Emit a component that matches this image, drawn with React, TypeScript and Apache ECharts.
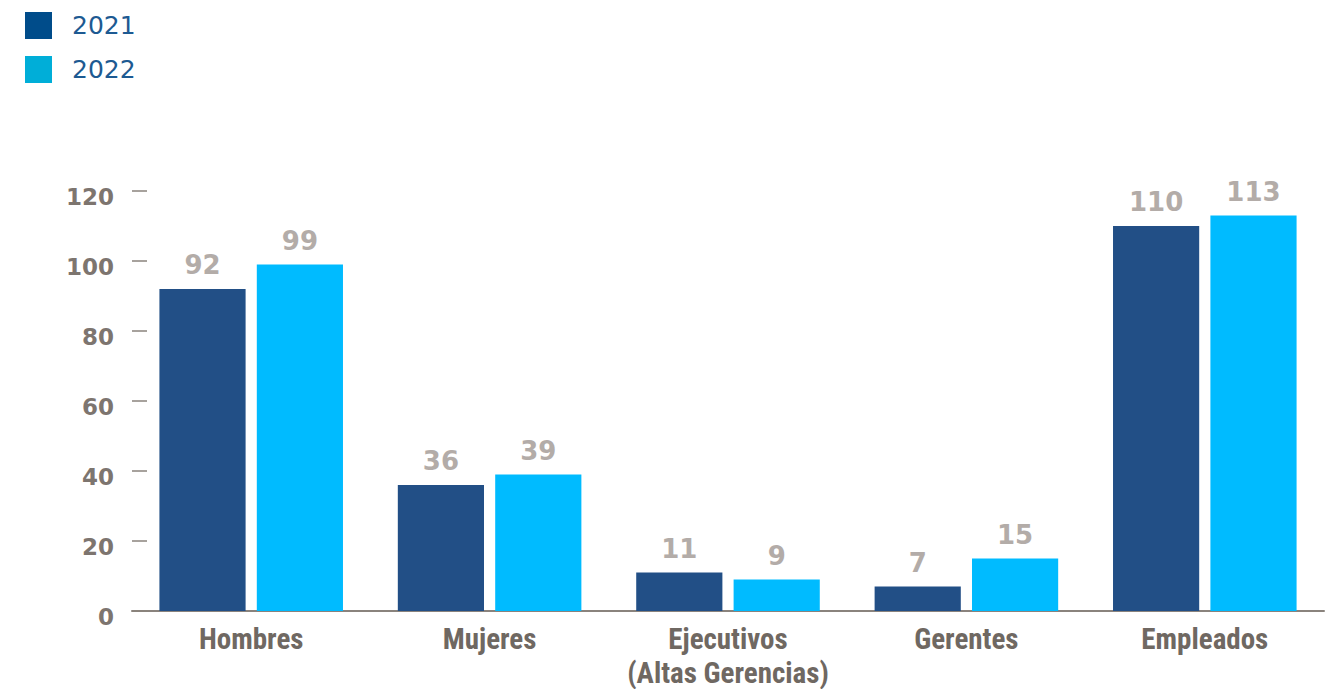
import React, { useEffect, useRef } from "react";
import * as echarts from "echarts";

const categories = ["Hombres", "Mujeres", "Ejecutivos\n(Altas Gerencias)", "Gerentes", "Empleados"];
const series2021 = [92, 36, 11, 7, 110];
const series2022 = [99, 39, 9, 15, 113];
const yTicks = [0, 20, 40, 60, 80, 100, 120];

export default function App() {
  const ref = useRef<HTMLDivElement>(null);
  useEffect(() => {
    if (!ref.current) return;
    const chart = echarts.init(ref.current, null, { renderer: "svg" });
    const labelStyle = {
      show: true,
      position: "top",
      distance: 11,
      color: "#b3aca8",
      fontSize: 26,
      fontWeight: "bold",
      fontFamily: "DejaVu Sans, sans-serif",
    };
    chart.setOption({
      animation: false,
      backgroundColor: "#ffffff",
      legend: {
        orient: "vertical",
        left: 20,
        top: 7,
        itemWidth: 27,
        itemHeight: 27,
        itemGap: 17,
        icon: "rect",
        textStyle: {
          color: "#1d5a92",
          fontSize: 25,
          fontFamily: "DejaVu Sans, sans-serif",
          padding: [0, 0, 0, 15],
        },
        data: [
          { name: "2021", itemStyle: { color: "#004c8a" } },
          { name: "2022", itemStyle: { color: "#00aed8" } },
        ],
      },
      grid: { left: 132, right: 11, top: 191, bottom: 78, containLabel: false, outerBoundsMode: "none" },
      xAxis: {
        type: "category",
        data: categories,
        axisLine: { show: true, lineStyle: { color: "#8a837d", width: 2 } },
        axisTick: { show: false },
        axisLabel: {
          interval: 0,
          hideOverlap: false,
          color: "#6f6862",
          fontSize: 29,
          fontWeight: "bold",
          fontFamily: "Liberation Sans Narrow, Roboto Condensed, Arial Narrow, sans-serif",
          margin: 11,
          lineHeight: 34,
        },
      },
      yAxis: {
        type: "value",
        min: 0,
        max: 120,
        interval: 20,
        axisLine: { show: false },
        axisTick: { show: true, inside: true, length: 15, lineStyle: { color: "#8a837d", width: 1.5 } },
        splitLine: { show: false },
        axisLabel: {
          color: "#7d756f",
          fontSize: 23,
          fontWeight: "bold",
          fontFamily: "DejaVu Sans, sans-serif",
          margin: 18,
          formatter: (v: number) => (yTicks.includes(v) ? "{v|" + v + "}" : ""),
          rich: {
            v: {
              color: "#7d756f",
              fontSize: 23,
              fontWeight: "bold",
              fontFamily: "DejaVu Sans, sans-serif",
              padding: [12, 0, 0, 0],
            },
          },
        },
      },
      series: [
        {
          name: "2021",
          type: "bar",
          data: series2021,
          barGap: "13%",
          barCategoryGap: "23%",
          itemStyle: { color: "#224f86" },
          label: labelStyle,
        },
        {
          name: "2022",
          type: "bar",
          data: series2022,
          itemStyle: { color: "#00bbff" },
          label: labelStyle,
        },
      ],
    });
    return () => chart.dispose();
  }, []);
  return <div ref={ref} style={{ width: 1335, height: 689, position: "absolute", left: 0, top: 0 }} />;
}
